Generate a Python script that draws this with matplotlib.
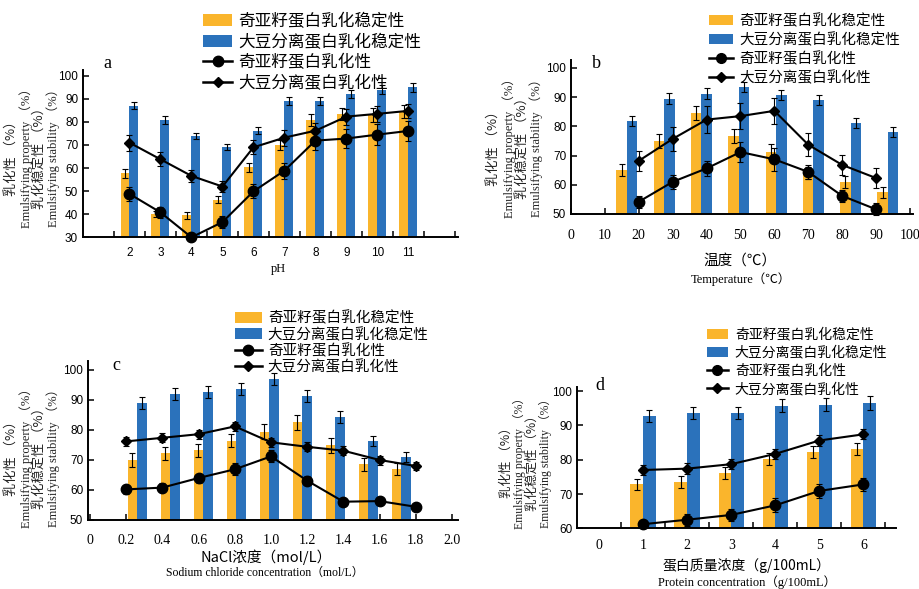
import matplotlib
matplotlib.use('Agg')
import matplotlib.pyplot as plt
from matplotlib.patches import Patch
from matplotlib.lines import Line2D
from matplotlib.font_manager import FontProperties
import numpy as np

W, H = 919, 589
ORANGE = '#FAB52C'
BLUE = '#2B72BB'
CJK = ['Noto Sans CJK SC', 'DejaVu Sans']
SERIF = ['Liberation Serif', 'Noto Sans CJK SC', 'DejaVu Serif']
SANS = ['Liberation Sans', 'DejaVu Sans']

legend_labels = ['奇亚籽蛋白乳化稳定性', '大豆分离蛋白乳化稳定性', '奇亚籽蛋白乳化性', '大豆分离蛋白乳化性']

# ---------------- Panel a : pH ----------------
ph = [2, 3, 4, 5, 6, 7, 8, 9, 10, 11]
a_chia_stab = [57.7, 40.1, 39.5, 46.2, 60.3, 70.0, 80.9, 83.5, 82.9, 84.5]
a_chia_stab_err = [1.8, 1.5, 1.5, 1.5, 2.0, 2.0, 2.5, 2.5, 3.0, 3.0]
a_soy_stab = [87.1, 81.0, 73.9, 69.0, 76.1, 89.0, 89.2, 92.1, 93.9, 95.0]
a_soy_stab_err = [1.7, 1.7, 1.5, 1.3, 1.5, 1.8, 1.8, 1.8, 2.0, 2.0]
a_chia_emul = [48.8, 40.8, 30.0, 36.6, 49.9, 58.9, 71.9, 72.8, 74.5, 76.1]
a_chia_emul_err = [3.0, 2.5, 1.0, 2.5, 3.0, 3.5, 4.0, 4.0, 4.5, 4.5]
a_soy_emul = [71.0, 63.8, 56.6, 52.0, 69.0, 73.2, 76.2, 82.3, 83.5, 84.8]
a_soy_emul_err = [3.5, 3.0, 2.5, 2.5, 3.0, 3.5, 3.5, 3.5, 3.5, 3.0]

# ---------------- Panel b : temperature ----------------
temp = [20, 30, 40, 50, 60, 70, 80, 90]
b_chia_stab = [65.0, 75.0, 84.5, 76.7, 71.3, 64.0, 61.0, 57.4]
b_chia_stab_err = [2.0, 2.5, 2.5, 2.5, 2.5, 2.0, 2.0, 2.0]
b_soy_stab = [81.9, 89.5, 91.2, 93.5, 90.8, 89.0, 81.2, 78.0]
b_soy_stab_err = [1.8, 1.8, 1.8, 1.8, 1.8, 1.8, 1.8, 1.8]
b_chia_emul = [54.2, 61.0, 65.6, 71.2, 68.7, 64.4, 56.2, 51.6]
b_chia_emul_err = [2.0, 2.5, 2.5, 3.5, 4.0, 2.5, 2.0, 2.0]
b_soy_emul = [68.2, 75.7, 82.3, 83.5, 85.3, 73.7, 66.8, 62.3]
b_soy_emul_err = [3.5, 4.0, 4.5, 4.5, 4.5, 4.0, 3.5, 3.5]

# ---------------- Panel c : NaCl ----------------
nacl = [0.2, 0.4, 0.6, 0.8, 1.0, 1.2, 1.4, 1.6, 1.8]
c_chia_stab = [70.0, 72.2, 73.3, 76.4, 79.4, 82.6, 75.0, 68.6, 67.1]
c_chia_stab_err = [2.2, 2.2, 2.2, 2.2, 2.5, 2.5, 2.5, 2.2, 2.0]
c_soy_stab = [88.9, 91.9, 92.7, 93.8, 97.0, 91.3, 84.3, 76.3, 70.9]
c_soy_stab_err = [2.0, 2.0, 2.0, 2.0, 2.0, 2.0, 2.0, 1.7, 1.7]
c_chia_emul = [60.2, 60.8, 64.0, 66.9, 71.2, 63.1, 56.1, 56.3, 54.4]
c_chia_emul_err = [1.5, 1.5, 1.5, 2.0, 2.0, 1.5, 1.0, 1.0, 1.0]
c_soy_emul = [76.2, 77.4, 78.6, 81.2, 75.9, 74.4, 73.1, 70.0, 68.0]
c_soy_emul_err = [1.5, 1.5, 1.5, 1.5, 1.5, 1.5, 1.5, 1.5, 1.2]

# ---------------- Panel d : protein concentration ----------------
prot = [1, 2, 3, 4, 5, 6]
d_chia_stab = [72.8, 73.5, 76.2, 80.3, 82.2, 83.1]
d_chia_stab_err = [1.6, 1.8, 1.8, 1.8, 1.8, 1.8]
d_soy_stab = [92.7, 93.6, 93.6, 95.7, 96.0, 96.5]
d_soy_stab_err = [1.8, 1.8, 1.8, 1.9, 1.9, 2.0]
d_chia_emul = [61.2, 62.5, 63.9, 66.7, 70.9, 72.8]
d_chia_emul_err = [1.0, 1.8, 1.8, 2.0, 2.0, 2.0]
d_soy_emul = [77.0, 77.4, 78.7, 81.7, 85.6, 87.4]
d_soy_emul_err = [1.5, 1.5, 1.5, 1.5, 1.5, 1.5]

fig = plt.figure(figsize=(W / 100, H / 100), dpi=100)
fig.patch.set_facecolor('white')


def px_ax(left, right, top, bottom):
    return fig.add_axes([left / W, 1 - bottom / H, (right - left) / W, (bottom - top) / H])


def fx(x):
    return x / W


def fy(y):
    return 1 - y / H


def style_ax(ax):
    for s in ['top', 'right']:
        ax.spines[s].set_visible(False)
    for s in ['left', 'bottom']:
        ax.spines[s].set_linewidth(1.4)
        ax.spines[s].set_color('black')
    ax.tick_params(which='both', direction='in', length=4, width=1.1, colors='black')
    ax.patch.set_alpha(0)


def draw(ax, xb_o, xb_b, bw, xl, cs, cse, ss, sse, ce, cee, se, see, ms_c, ms_d):
    ebar = dict(ecolor='black', elinewidth=0.8, capsize=2.2, capthick=0.8)
    ax.bar(xb_o, cs, width=bw, color=ORANGE, yerr=cse, error_kw=ebar, zorder=2)
    ax.bar(xb_b, ss, width=bw, color=BLUE, yerr=sse, error_kw=ebar, zorder=2)
    ax.errorbar(xl, ce, yerr=cee, color='black', lw=1.5, marker='o', ms=ms_c,
                ecolor='black', elinewidth=0.8, capsize=2.2, capthick=0.8, zorder=4, clip_on=False)
    ax.errorbar(xl, se, yerr=see, color='black', lw=1.5, marker='D', ms=ms_d,
                ecolor='black', elinewidth=0.8, capsize=2.2, capthick=0.8, zorder=4, clip_on=False)


def add_legend(ax, x, y, fs, hl, htp, ls, ms_c, ms_d):
    handles = [Patch(facecolor=ORANGE, edgecolor='none'),
               Patch(facecolor=BLUE, edgecolor='none'),
               Line2D([], [], color='black', lw=1.8, marker='o', ms=ms_c),
               Line2D([], [], color='black', lw=1.8, marker='D', ms=ms_d)]
    ax.legend(handles, legend_labels, loc='upper left', bbox_to_anchor=(fx(x), fy(y)),
              bbox_transform=fig.transFigure, frameon=False, borderpad=0, borderaxespad=0,
              handlelength=hl, handletextpad=htp, labelspacing=ls, handleheight=0.75,
              prop=FontProperties(family=CJK, size=fs))


def ylabels(xs, yc, fs_cn, fs_en):
    texts = ['乳化性 （%）', 'Emulsifying property （%）', '乳化稳定性 （%）', 'Emulsifying stability （%）']
    for i, (x, t) in enumerate(zip(xs, texts)):
        fam = CJK if i % 2 == 0 else SERIF
        fs = fs_cn if i % 2 == 0 else fs_en
        fig.text(fx(x), fy(yc), t, rotation=90, ha='center', va='center', family=fam,
                 fontsize=fs, color='#222222')


# ---------------- draw panel a ----------------
axa = px_ax(83, 458, 70, 237.3)
style_ax(axa)
pa = np.array(ph, dtype=float)
bwa = 0.29
draw(axa, pa - bwa / 2, pa + bwa / 2, bwa, pa, a_chia_stab, a_chia_stab_err, a_soy_stab, a_soy_stab_err,
     a_chia_emul, a_chia_emul_err, a_soy_emul, a_soy_emul_err, 7.5, 5.5)
axa.set_xlim(0.5, 12.6)
axa.set_ylim(30, 102.5)
axa.set_yticks(range(30, 101, 10))
axa.set_yticklabels([str(v) for v in range(30, 101, 10)], family=SANS, fontsize=8.5)
axa.set_xticks(ph)
axa.set_xticklabels([str(v) for v in ph], family=SANS, fontsize=8.5)
axa.tick_params(axis='x', which='major', length=0, pad=7)
axa.set_xticks(np.arange(1.5, 13, 1), minor=True)
fig.text(fx(278), fy(269), 'pH', ha='center', va='center', family=SERIF, fontsize=9)
fig.text(fx(107), fy(64), 'a', ha='center', va='center', family=SERIF, fontsize=13)
add_legend(axa, 203, 13, 12, 1.75, 0.35, 0.22, 7.5, 5.5)
ylabels([12, 26, 40, 53], 155, 9.5, 9)

# ---------------- draw panel b ----------------
axb = px_ax(571, 913, 60, 214)
style_ax(axb)
gb = 16.5 + 11.0 * np.arange(len(temp))
bwb = 3.1
draw(axb, gb - bwb / 2, gb + bwb / 2, bwb, temp, b_chia_stab, b_chia_stab_err, b_soy_stab, b_soy_stab_err,
     b_chia_emul, b_chia_emul_err, b_soy_emul, b_soy_emul_err, 7.5, 5.5)
axb.set_xlim(0, 100.9)
axb.set_ylim(50, 102.7)
axb.set_yticks(range(50, 101, 10))
axb.set_yticklabels([str(v) for v in range(50, 101, 10)], family=SANS, fontsize=8.5)
axb.set_xticks(range(0, 101, 10))
axb.set_xticklabels([str(v) for v in range(0, 101, 10)], family=SERIF, fontsize=10)
axb.tick_params(axis='x', pad=11)
fig.text(fx(740), fy(261), '温度（℃）', ha='center', va='center', family=CJK, fontsize=10.5)
fig.text(fx(741), fy(279), 'Temperature（℃）', ha='center', va='center', family=SERIF, fontsize=9)
fig.text(fx(596), fy(64), 'b', ha='center', va='center', family=SERIF, fontsize=13)
add_legend(axb, 709, 13.5, 10.5, 1.65, 0.45, 0.3, 7, 5)
ylabels([494, 509, 523, 536], 145, 9.5, 9)

# ---------------- draw panel c ----------------
axc = px_ax(88, 458, 361, 520)
style_ax(axc)
gc = 0.26 + 0.1825 * np.arange(len(nacl))
bwc = 0.0525
draw(axc, gc - bwc / 2, gc + bwc / 2, bwc, nacl, c_chia_stab, c_chia_stab_err, c_soy_stab, c_soy_stab_err,
     c_chia_emul, c_chia_emul_err, c_soy_emul, c_soy_emul_err, 7.5, 5.5)
axc.set_xlim(-0.011, 2.033)
axc.set_ylim(50, 103)
axc.set_yticks(range(50, 101, 10))
axc.set_yticklabels([str(v) for v in range(50, 101, 10)], family=SANS, fontsize=8.5)
cx = [0, 0.2, 0.4, 0.6, 0.8, 1.0, 1.2, 1.4, 1.6, 1.8, 2.0]
axc.set_xticks(cx)
axc.set_xticklabels(['0'] + ['%.1f' % v for v in cx[1:]], family=SERIF, fontsize=10)
axc.tick_params(axis='x', pad=10)
fig.text(fx(266), fy(557), 'NaCl浓度（mol/L）', ha='center', va='center', family=CJK, fontsize=10.5)
fig.text(fx(265), fy(573), 'Sodium chloride concentration（mol/L）', ha='center', va='center',
         family=SERIF, fontsize=8.5)
fig.text(fx(116), fy(366), 'c', ha='center', va='center', family=SERIF, fontsize=13)
add_legend(axc, 235, 311, 10.5, 1.85, 0.4, 0.12, 7.5, 5.5)
ylabels([12, 26, 40, 53], 455, 9.5, 9)

# ---------------- draw panel d ----------------
axd = px_ax(577, 896, 387, 528.3)
style_ax(axd)
pd_ = np.array(prot, dtype=float)
bwd = 0.288
draw(axd, pd_ - bwd / 2, pd_ + bwd / 2, bwd, pd_, d_chia_stab, d_chia_stab_err, d_soy_stab, d_soy_stab_err,
     d_chia_emul, d_chia_emul_err, d_soy_emul, d_soy_emul_err, 7.5, 5.5)
axd.set_xlim(-0.5, 6.74)
axd.set_ylim(60, 101.2)
axd.set_yticks(range(60, 101, 10))
axd.set_yticklabels([str(v) for v in range(60, 101, 10)], family=SANS, fontsize=8.5)
dx = list(range(0, 7))
axd.set_xticks(dx)
axd.set_xticklabels([str(v) for v in dx], family=SERIF, fontsize=10)
axd.tick_params(axis='x', which='major', length=0, pad=8)
axd.set_xticks(np.arange(0.5, 7, 1), minor=True)
fig.text(fx(747), fy(566), '蛋白质量浓度（g/100mL）', ha='center', va='center', family=CJK, fontsize=10)
fig.text(fx(747), fy(582), 'Protein concentration（g/100mL）', ha='center', va='center',
         family=SERIF, fontsize=9)
fig.text(fx(600), fy(386), 'd', ha='center', va='center', family=SERIF, fontsize=13)
add_legend(axd, 707, 327.5, 10, 1.5, 0.5, 0.3, 7, 5)
ylabels([506, 519, 532, 545], 460, 9, 8.5)

fig.savefig('out.png', dpi=100, facecolor='white')
